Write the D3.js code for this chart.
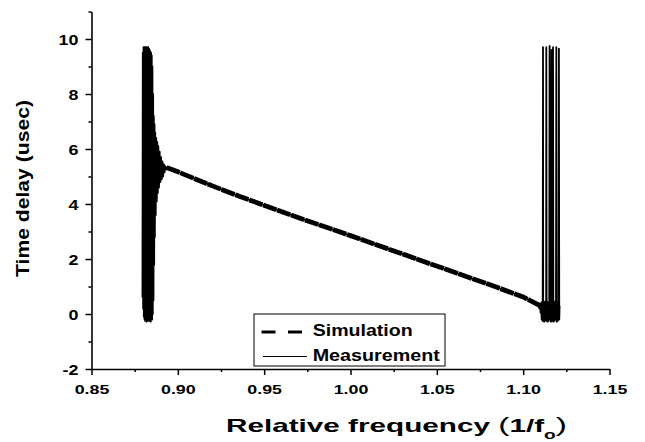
<!DOCTYPE html>
<html>
<head>
<meta charset="utf-8">
<script src="https://cdn.jsdelivr.net/npm/d3@7"></script>
<style>
  html, body { margin: 0; padding: 0; background: #fff; }
  svg { display: block; font-family: "Liberation Sans", Arial, Helvetica, sans-serif; }
</style>
</head>
<body>
<svg id="chart" width="645" height="442"></svg>
<script>
// ---------------- data ----------------
const xTicks = [0.85, 0.90, 0.95, 1.00, 1.05, 1.10, 1.15];
const xMinorTicks = [0.875, 0.925, 0.975, 1.025, 1.075, 1.125];
const yTicks = [-2, 0, 2, 4, 6, 8, 10];
const yMinorTicks = [-1, 1, 3, 5, 7, 9, 11];

const seriesNames = ["Simulation", "Measurement"];

// Simulation (dashed)
const simX = [0.8935, 0.900, 0.920, 0.936, 0.9418, 0.970, 1.000, 1.0537, 1.080, 1.100, 1.1072, 1.1100];
const simY = [5.33, 5.17, 4.66, 4.27, 4.14, 3.50, 2.85, 1.66, 1.08, 0.62, 0.39, 0.30];

// Measurement (solid, thin) - left oscillation burst
const measLeftX = [0.8795,0.8797,0.8799,0.8801,0.8803,0.8805,0.8807,0.8809,0.8811,0.8813,0.8815,0.8817,0.8819,0.8821,0.8823,0.8825,0.8827,0.8829,0.8831,0.8833,0.8835,0.8837,0.8839,0.8841,0.8843,0.8845,0.8847,0.8849,0.8851,0.8853,0.8855,0.8857,0.8859,0.8861,0.8863,0.8865,0.8867,0.8869,0.8872,0.8875,0.8878,0.8881,0.8884,0.8887,0.8891,0.8895,0.8899,0.8903,0.8907,0.8911,0.8915,0.8919,0.8923,0.8927,0.8931,0.8935];
const measLeftY = [0.6,9.5,0.2,9.7,-0.1,9.6,-0.2,9.7,-0.25,9.7,-0.2,9.65,-0.28,9.7,-0.2,9.6,-0.25,9.7,-0.1,9.65,-0.25,9.6,-0.2,9.55,-0.28,9.5,0.0,9.4,-0.2,9.0,0.0,8.0,0.5,7.2,1.8,6.9,2.8,6.6,3.6,6.4,4.1,6.25,4.4,6.1,4.6,5.9,4.8,5.7,4.9,5.55,5.0,5.45,5.15,5.38,5.25,5.33];

// Measurement - linear middle part
const measMidX = [0.8970, 0.900, 0.920, 0.936, 0.9418, 0.970, 1.000, 1.0537, 1.080, 1.100, 1.1072];
const measMidY = [5.28, 5.17, 4.66, 4.27, 4.14, 3.50, 2.85, 1.66, 1.08, 0.62, 0.39];

// Measurement - right oscillation burst
const measRightX = [1.1080,1.1088,1.1094,1.1098,1.1101,1.1104,1.1107,1.1110,1.1113,1.1115,1.1116,1.1119,1.1122,1.1125,1.1128,1.1131,1.1133,1.1134,1.1136,1.1139,1.1142,1.1145,1.1148,1.1151,1.1153,1.1155,1.1158,1.1161,1.1164,1.1166,1.1169,1.1172,1.1173,1.1175,1.1178,1.1181,1.1184,1.1187,1.1190,1.1192,1.1194,1.1197,1.1200,1.1203,1.1205,1.1207,1.1209,1.1211];
const measRightY = [0.35,0.3,0.2,0.35,0.05,0.4,-0.2,0.45,-0.25,9.7,-0.2,0.4,-0.28,0.45,-0.2,0.3,-0.25,9.7,-0.2,0.45,-0.28,0.4,-0.25,0.35,9.75,-0.2,0.4,-0.28,9.6,-0.25,0.45,-0.2,9.7,-0.28,0.4,-0.25,0.45,-0.2,0.3,9.7,-0.28,0.45,-0.25,0.4,-0.2,9.65,-0.2,0.3];

// ---------------- chart ----------------
const svg = d3.select("#chart");
const x = d3.scaleLinear().domain([0.85, 1.15]).range([91.5, 609.5]);
const y = d3.scaleLinear().domain([-2, 11]).range([369, 11.5]);

const zip = (xs, ys) => xs.map((v, i) => [v, ys[i]]);
const measurement = zip(measLeftX, measLeftY)
  .concat(zip(measMidX, measMidY))
  .concat(zip(measRightX, measRightY));
const simulation = zip(simX, simY);

const line = d3.line().x(d => x(d[0])).y(d => y(d[1]));

// simulation (thick dashed)
svg.append("path")
  .datum(simulation)
  .attr("d", line)
  .attr("fill", "none")
  .attr("stroke", "#000")
  .attr("stroke-width", 4.8)
  .attr("stroke-dasharray", "14,0.8");

// measurement (thin solid)
svg.append("path")
  .datum(measurement)
  .attr("d", line)
  .attr("fill", "none")
  .attr("stroke", "#000")
  .attr("stroke-width", 1.8)
  .attr("stroke-linejoin", "round");

const tickFmt2 = d => d.toFixed(2);
const tickFmtInt = d => String(d);

// x axis
const gx = svg.append("g").attr("transform", `translate(0,${y(-2)})`)
  .call(d3.axisBottom(x).tickValues(xTicks).tickSize(6).tickSizeOuter(0).tickFormat(tickFmt2));
svg.append("g").attr("transform", `translate(0,${y(-2)})`)
  .call(d3.axisBottom(x).tickValues(xMinorTicks).tickSize(3).tickSizeOuter(0).tickFormat(""))
  .call(g => g.select(".domain").remove());

// y axis
const gy = svg.append("g").attr("transform", `translate(${x(0.85)},0)`)
  .call(d3.axisLeft(y).tickValues(yTicks).tickSize(6).tickSizeOuter(0).tickFormat(tickFmtInt));
svg.append("g").attr("transform", `translate(${x(0.85)},0)`)
  .call(d3.axisLeft(y).tickValues(yMinorTicks).tickSize(3).tickSizeOuter(0).tickFormat(""))
  .call(g => g.select(".domain").remove());

svg.selectAll(".domain").attr("stroke", "#000").attr("stroke-width", 1.6);
svg.selectAll(".tick line").attr("stroke", "#000").attr("stroke-width", 1.5);

gx.selectAll(".tick text")
  .attr("y", null).attr("dy", null)
  .attr("transform", "translate(0,25) scale(1.32,1)")
  .attr("fill", "#000")
  .style("font-size", "13.5px").style("font-weight", "bold");

gy.selectAll(".tick text")
  .attr("x", null).attr("dy", "0.36em")
  .attr("text-anchor", "end")
  .attr("transform", "translate(-13,0) scale(1.28,1)")
  .attr("fill", "#000")
  .style("font-size", "14px").style("font-weight", "bold");

// helper to stretch text to a target width
function fitText(sel, target) {
  const w = sel.node().getComputedTextLength();
  return target / w;
}

// y title
const yt = svg.append("text")
  .attr("text-anchor", "middle")
  .style("font-size", "18.6px").style("font-weight", "bold")
  .attr("fill", "#000")
  .text("Time delay (usec)");
const sy = fitText(yt, 177);
yt.attr("transform", `translate(29,188.5) rotate(-90) scale(${sy},1)`);

// x title
const xt = svg.append("text")
  .style("font-size", "18.6px").style("font-weight", "bold")
  .attr("fill", "#000");
xt.append("tspan").text("Relative frequency ");
xt.append("tspan").style("font-size", "21px").style("font-weight", "normal").text("(");
xt.append("tspan").text("1/f");
xt.append("tspan").style("font-size", "12px").attr("dy", 7).text("o");
xt.append("tspan").style("font-size", "21px").style("font-weight", "normal").attr("dy", -7).text(")");
const xw = xt.node().getBBox().width;
xt.attr("transform", `translate(226,431.7) scale(${341 / xw},1)`);

// legend
const lg = svg.append("g");
lg.append("rect")
  .attr("x", 254).attr("y", 314).attr("width", 191).attr("height", 52)
  .attr("fill", "#fff").attr("stroke", "#000").attr("stroke-width", 1);
lg.append("line")
  .attr("x1", 261.5).attr("x2", 302).attr("y1", 332).attr("y2", 332)
  .attr("stroke", "#000").attr("stroke-width", 3.2).attr("stroke-dasharray", "14,12.5");
lg.append("line")
  .attr("x1", 263).attr("x2", 307).attr("y1", 356.5).attr("y2", 356.5)
  .attr("stroke", "#000").attr("stroke-width", 1);
const lt1 = lg.append("text").style("font-size", "16.3px").style("font-weight", "bold")
  .attr("fill", "#000").text(seriesNames[0]);
lt1.attr("transform", `translate(312.7,336) scale(${fitText(lt1, 100)},1)`);
const lt2 = lg.append("text").style("font-size", "16.3px").style("font-weight", "bold")
  .attr("fill", "#000").text(seriesNames[1]);
lt2.attr("transform", `translate(312.7,361) scale(${fitText(lt2, 127)},1)`);
</script>
</body>
</html>
